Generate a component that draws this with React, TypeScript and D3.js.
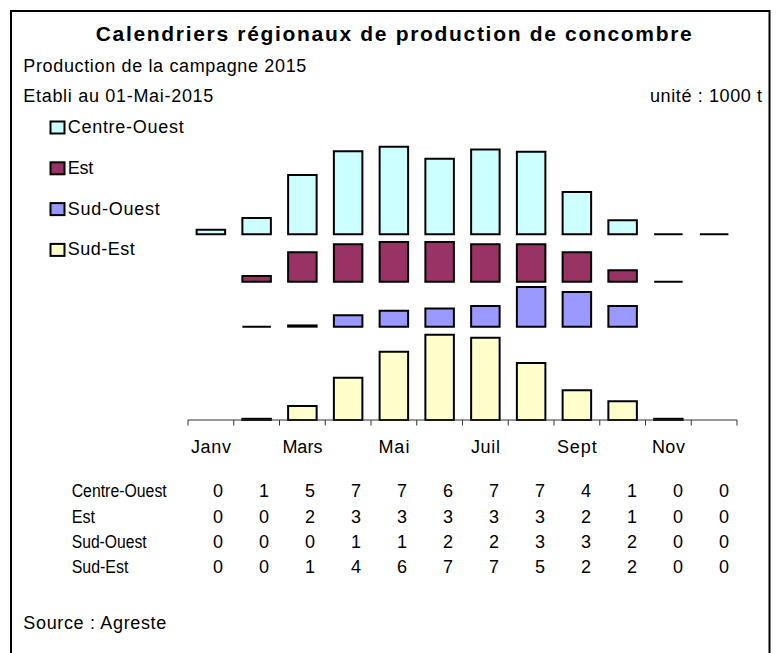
import React from "react";
import * as d3 from "d3";

// months of the campaign
const months = ["Janv", "Févr", "Mars", "Avr", "Mai", "Juin", "Juil", "Août", "Sept", "Oct", "Nov", "Déc"];
// only every other month is written under the axis
const axisLabels = ["Janv", "", "Mars", "", "Mai", "", "Juil", "", "Sept", "", "Nov", ""];

const regions = ["Centre-Ouest", "Est", "Sud-Ouest", "Sud-Est"];
const colors = ["#CCFFFF", "#993366", "#9999FF", "#FFFFCC"];

// production in 1000 t (null = no bar drawn, 0 = flat line)
const centreOuest = [0.38, 1.36, 4.94, 6.92, 7.3, 6.3, 7.08, 6.88, 3.52, 1.17, 0, 0];
const est = [null, 0.48, 2.45, 3.12, 3.31, 3.31, 3.12, 3.12, 2.45, 0.95, 0, null];
const sudOuest = [null, 0, 0.1, 0.95, 1.33, 1.52, 1.72, 3.31, 2.89, 1.72, null, null];
const sudEst = [null, 0.1, 1.17, 3.53, 5.69, 7.11, 6.86, 4.75, 2.48, 1.56, 0.1, null];

// each region sits on its own baseline (invisible filler series in the original)
const panelBase = [15.47, 11.53, 7.78, 0];

const font = "'Liberation Sans', Arial, Helvetica, sans-serif";

export default function App() {
  const series = [centreOuest, est, sudOuest, sudEst];

  const x = d3
    .scaleBand<string>()
    .domain(months)
    .range([188, 737])
    .paddingInner(0.377)
    .paddingOuter(0.1885);
  const y = d3.scaleLinear().domain([0, 24]).range([420, 132]);
  const tableX = d3.scalePoint<string>().domain(months).range([218, 724]);

  const [x0, x1] = x.range();
  const ticks = d3.range(months.length + 1).map((i) => x0 + i * x.step());

  // rectangle as a path so a zero value still shows as a line
  function barPath(i: number, v: number, base: number) {
    const left = x(months[i])!;
    const w = x.bandwidth();
    const yb = y(base);
    const yt = y(base + v);
    return `M${left},${yb}V${yt}H${left + w}V${yb}Z`;
  }

  const legendY = (i: number) => 127.5 + i * 40.8;
  const legendWidths = [116, 25.6, 92, 67];
  const rowLabelWidths = [95, 23.3, 75, 56.7];
  const axisLabelWidths: Record<string, number> = { Janv: 40, Mars: 40, Mai: 31, Juil: 29, Sept: 40, Nov: 33 };
  const tableRowY = (i: number) => 497.3 + i * 25.35;

  return (
    <div style={{ position: "fixed", left: 0, top: 0 }}>
      <svg width={778} height={653} style={{ display: "block", background: "#fff" }}>
        <rect x={11} y={11} width={758.5} height={700} fill="#fff" stroke="#000" strokeWidth={2} />

        {/* titles */}
        <text x={95.7} y={40.5} fontFamily={font} fontWeight="bold" fontSize={21} textLength={596} lengthAdjust="spacing">
          Calendriers régionaux de production de concombre
        </text>
        <text x={23.3} y={71.7} fontFamily={font} fontSize={18} textLength={283} lengthAdjust="spacing">
          Production de la campagne 2015
        </text>
        <text x={23.3} y={101.7} fontFamily={font} fontSize={18} textLength={190} lengthAdjust="spacing">
          Etabli au 01-Mai-2015
        </text>
        <text x={650} y={101.7} fontFamily={font} fontSize={18} textLength={112} lengthAdjust="spacing">
          unité : 1000 t
        </text>

        {/* legend */}
        {regions.map((r, i) => (
          <g key={r}>
            <rect x={50.5} y={legendY(i) - 6} width={14} height={12} fill={colors[i]} stroke="#000" strokeWidth={2} />
            <text x={67.7} y={legendY(i) + 5.5} fontFamily={font} fontSize={18} textLength={legendWidths[i]} lengthAdjust="spacing">
              {r}
            </text>
          </g>
        ))}

        {/* bars */}
        {series.map((vals, s) => (
          <g key={regions[s]}>
            {vals.map((v, i) =>
              v === null ? null : (
                <path
                  key={i}
                  d={barPath(i, v, panelBase[s])}
                  fill={colors[s]}
                  stroke="#000"
                  strokeWidth={2}
                  strokeLinejoin="miter"
                />
              )
            )}
          </g>
        ))}

        {/* axis */}
        <line x1={x0} x2={x1} y1={420} y2={420} stroke="#333" strokeWidth={1} />
        {ticks.map((t, i) => (
          <line key={i} x1={t} x2={t} y1={420} y2={425.5} stroke="#333" strokeWidth={1} />
        ))}
        {axisLabels.map((l, i) =>
          l ? (
            <text
              key={i}
              x={x(months[i])! + x.bandwidth() / 2 - axisLabelWidths[l] / 2}
              y={453.3}
              fontFamily={font}
              fontSize={18}
              textLength={axisLabelWidths[l]}
              lengthAdjust="spacing"
            >
              {l}
            </text>
          ) : null
        )}

        {/* data table */}
        {regions.map((r, s) => (
          <g key={r}>
            <text x={71.7} y={tableRowY(s)} fontFamily={font} fontSize={18} textLength={rowLabelWidths[s]} lengthAdjust="spacingAndGlyphs">
              {r}
            </text>
            {series[s].map((v, i) => (
              <text key={i} x={tableX(months[i])} y={tableRowY(s)} textAnchor="middle" fontFamily={font} fontSize={18}>
                {Math.round(v ?? 0)}
              </text>
            ))}
          </g>
        ))}

        <text x={23.3} y={629.3} fontFamily={font} fontSize={18} textLength={143} lengthAdjust="spacing">
          Source : Agreste
        </text>
      </svg>
    </div>
  );
}
